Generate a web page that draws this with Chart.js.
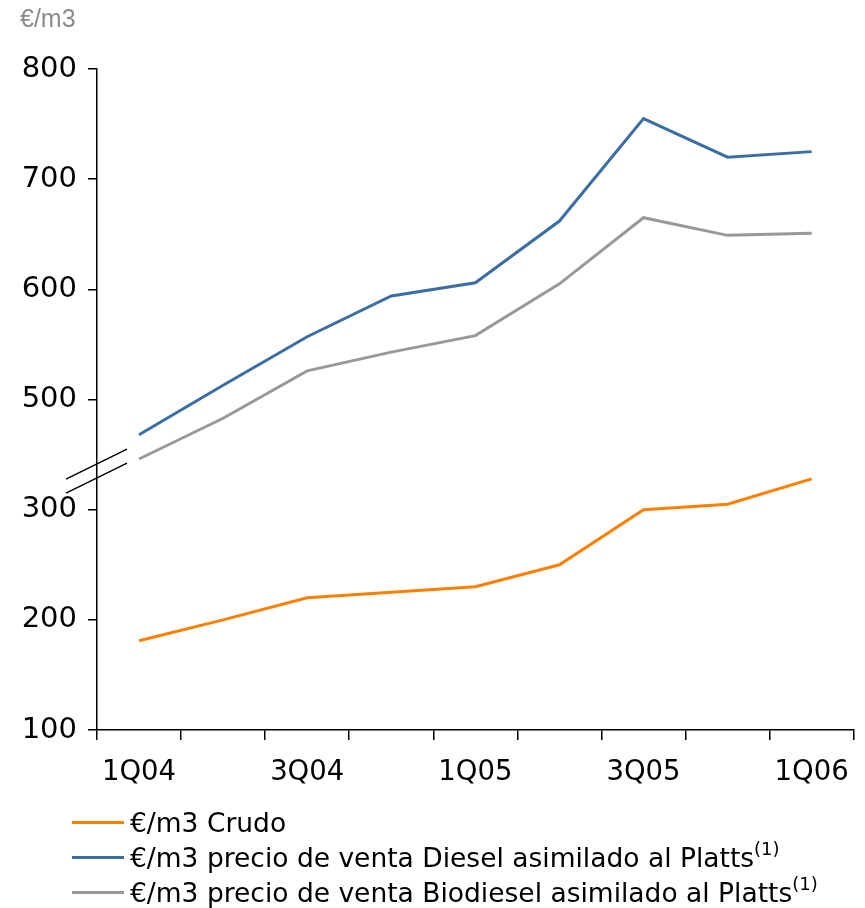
<!DOCTYPE html>
<html>
<head>
<meta charset="utf-8">
<script src="https://cdn.jsdelivr.net/npm/chart.js@4"></script>
<style>
  body { margin: 0; background: #fff; }
  #wrap { position: relative; width: 865px; height: 908px; }
  #unit { position: absolute; left: 20px; top: 4px; font: 25px "Liberation Sans", Arial, sans-serif; color: #8c8c8c; }
  #legend { position: absolute; left: 72px; top: 805px; font: 26.5px "DejaVu Sans", Verdana, sans-serif; color: #000; }
  .row { height: 35px; display: flex; align-items: center; white-space: nowrap; }
  .swatch { width: 52px; height: 3px; margin-right: 6px; flex: none; }
  sup { font-size: 18px; vertical-align: 12px; line-height: 0; }
</style>
</head>
<body>
<div id="wrap">
  <canvas id="chart"></canvas>
  <div id="unit">€/m3</div>
  <div id="legend"></div>
</div>
<script>
// data
const categories = ['1Q04', '2Q04', '3Q04', '4Q04', '1Q05', '2Q05', '3Q05', '4Q05', '1Q06'];
const crudo = [181, 200, 220, 225, 230, 250, 300, 305, 328];
const diesel = [468, 513, 557, 594, 606, 662, 755, 720, 725];
const biodiesel = [446, 483, 526, 543, 558, 605, 665, 649, 651];
const yTicks = [100, 200, 300, 500, 600, 700, 800];

// axis is broken between 300 and 500: values above the break are shifted down by 100
const BREAK_SHIFT = 100;
const shift = arr => arr.map(v => v - BREAK_SHIFT);

const colors = { crudo: '#ff7f00', diesel: '#3a6ea5', biodiesel: '#999999' };

const legendItems = [
  { color: colors.crudo, text: '€/m3 Crudo', sup: false },
  { color: colors.diesel, text: '€/m3 precio de venta Diesel asimilado al Platts', sup: true },
  { color: colors.biodiesel, text: '€/m3 precio de venta Biodiesel asimilado al Platts', sup: true }
];

const legendEl = document.getElementById('legend');
legendItems.forEach(item => {
  const row = document.createElement('div');
  row.className = 'row';
  const sw = document.createElement('span');
  sw.className = 'swatch';
  sw.style.background = item.color;
  const txt = document.createElement('span');
  txt.textContent = item.text;
  if (item.sup) {
    const s = document.createElement('sup');
    s.textContent = '(1)';
    txt.appendChild(s);
  }
  row.appendChild(sw);
  row.appendChild(txt);
  legendEl.appendChild(row);
});

// the two slanted strokes marking the axis break
const breakMark = {
  id: 'breakMark',
  afterDraw(chart) {
    const ctx = chart.ctx;
    const x = chart.scales.x.left;
    const yc = chart.scales.y.getPixelForValue(335);
    ctx.save();
    ctx.strokeStyle = '#000';
    ctx.lineWidth = 1.5;
    [-7, 7].forEach(d => {
      ctx.beginPath();
      ctx.moveTo(x - 31, yc + d + 15);
      ctx.lineTo(x + 30, yc + d - 15);
      ctx.stroke();
    });
    ctx.restore();
  }
};

const font = { family: '"DejaVu Sans", Verdana, sans-serif', size: 27.5 };

new Chart(document.getElementById('chart'), {
  type: 'line',
  data: {
    labels: categories,
    datasets: [
      { label: 'Crudo', data: crudo, borderColor: colors.crudo },
      { label: 'Diesel', data: shift(diesel), borderColor: colors.diesel },
      { label: 'Biodiesel', data: shift(biodiesel), borderColor: colors.biodiesel }
    ].map(d => Object.assign(d, { borderWidth: 3, pointRadius: 0, tension: 0, fill: false }))
  },
  options: {
    responsive: true,
    maintainAspectRatio: false,
    animation: false,
    layout: { padding: { top: 69, right: 5, left: 0, bottom: 0 } },
    plugins: { legend: { display: false }, tooltip: { enabled: false } },
    scales: {
      x: {
        offset: true,
        grid: { offset: true, drawOnChartArea: false, drawTicks: true, tickLength: 10, color: '#000', lineWidth: 1.5 },
        border: { color: '#000', width: 1.5 },
        ticks: {
          color: '#000', font: font, padding: 16, autoSkip: false, maxRotation: 0,
          callback: (v, i) => i % 2 === 0 ? categories[i] : ''
        },
        afterFit: s => { s.height = 178; }
      },
      y: {
        min: 100,
        max: 800 - BREAK_SHIFT,
        afterBuildTicks: s => {
          s.ticks = yTicks.map(t => ({ value: t > 300 ? t - BREAK_SHIFT : t }));
        },
        grid: { drawOnChartArea: false, drawTicks: true, tickLength: 9, color: '#000', lineWidth: 1.5 },
        border: { color: '#000', width: 1.5 },
        ticks: {
          color: '#000', font: Object.assign({}, font, { size: 29 }), padding: 11,
          callback: v => v > 300 ? v + BREAK_SHIFT : v
        },
        afterFit: s => { s.width = 97; }
      }
    }
  },
  plugins: [breakMark]
});
</script>
</body>
</html>
